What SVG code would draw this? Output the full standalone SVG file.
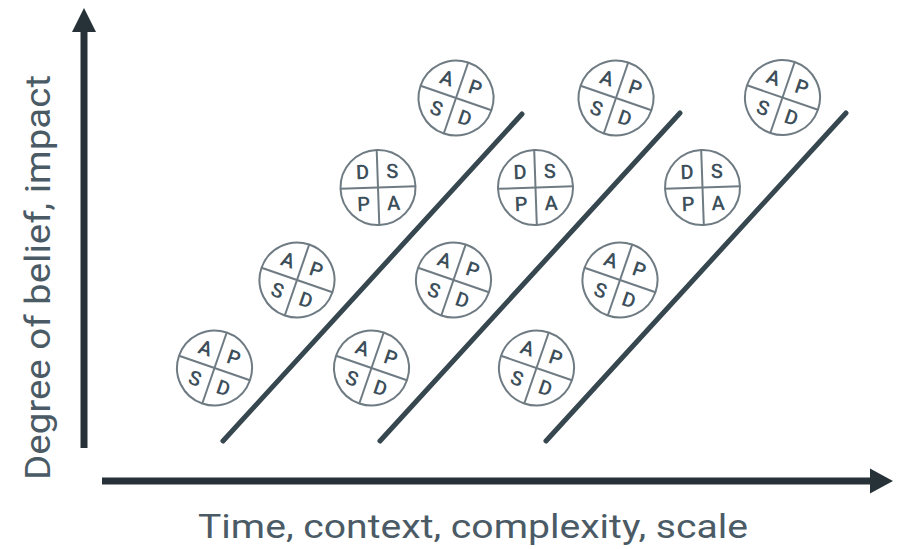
<svg xmlns="http://www.w3.org/2000/svg" width="902" height="549" viewBox="0 0 902 549">
  <style>
    .axis { stroke: #263238; stroke-width: 7; fill: none; }
    .head { fill: #263238; }
    .diag { stroke: #37474f; stroke-width: 5; stroke-linecap: round; fill: none; }
    .ring { fill: #ffffff; stroke: #6f7b83; stroke-width: 2; }
    .div { stroke: #6f7b83; stroke-width: 2; }
    .ltr { font-family: Roboto, "Liberation Sans", sans-serif; font-size: 20px; font-weight: 500; fill: #3d4f5a; text-anchor: middle; }
    .lbl { font-family: Roboto, "Liberation Sans", sans-serif; fill: #4b5b66; }
  </style>
  <defs>
    <!-- plain quartered circle, letters added per node -->
    <g id="face">
      <circle class="ring" r="37.5"/>
      <line class="div" x1="0" y1="-37.5" x2="0" y2="37.5"/>
      <line class="div" x1="-37.5" y1="0" x2="37.5" y2="0"/>
    </g>
  </defs>

  <rect width="902" height="549" fill="#ffffff"/>

  <!-- axes -->
  <g id="axes">
    <line class="axis" x1="84" y1="448" x2="84" y2="30"/>
    <polygon class="head" points="84,8 72,32 96,32"/>
    <line class="axis" x1="102" y1="481" x2="872" y2="481"/>
    <polygon class="head" points="893,481 870,468.5 870,493.5"/>
  </g>

  <!-- diagonal separators -->
  <g id="connectors">
    <line class="diag" x1="223" y1="441" x2="522" y2="114"/>
    <line class="diag" x1="380" y1="441" x2="680" y2="113"/>
    <line class="diag" x1="546" y1="441" x2="846" y2="113"/>
  </g>

  <!-- column 1 -->
  <g id="c1r1" transform="translate(214.5 368) rotate(19)">
    <use href="#face"/>
    <text class="ltr" x="-15" y="-9">A</text><text class="ltr" x="15" y="-9">P</text>
    <text class="ltr" x="-15" y="23">S</text><text class="ltr" x="15" y="23">D</text>
  </g>
  <g id="c1r2" transform="translate(297 280) rotate(19)">
    <use href="#face"/>
    <text class="ltr" x="-15" y="-9">A</text><text class="ltr" x="15" y="-9">P</text>
    <text class="ltr" x="-15" y="23">S</text><text class="ltr" x="15" y="23">D</text>
  </g>
  <g id="c1r3" transform="translate(378 187.5) rotate(-2)">
    <use href="#face"/>
    <text class="ltr" x="-15" y="-9">D</text><text class="ltr" x="15" y="-9">S</text>
    <text class="ltr" x="-15" y="23">P</text><text class="ltr" x="15" y="23">A</text>
  </g>
  <g id="c1r4" transform="translate(456 98) rotate(19)">
    <use href="#face"/>
    <text class="ltr" x="-15" y="-9">A</text><text class="ltr" x="15" y="-9">P</text>
    <text class="ltr" x="-15" y="23">S</text><text class="ltr" x="15" y="23">D</text>
  </g>

  <!-- column 2 -->
  <g id="c2r1" transform="translate(371.5 368) rotate(19)">
    <use href="#face"/>
    <text class="ltr" x="-15" y="-9">A</text><text class="ltr" x="15" y="-9">P</text>
    <text class="ltr" x="-15" y="23">S</text><text class="ltr" x="15" y="23">D</text>
  </g>
  <g id="c2r2" transform="translate(453.5 280) rotate(19)">
    <use href="#face"/>
    <text class="ltr" x="-15" y="-9">A</text><text class="ltr" x="15" y="-9">P</text>
    <text class="ltr" x="-15" y="23">S</text><text class="ltr" x="15" y="23">D</text>
  </g>
  <g id="c2r3" transform="translate(535.5 187.5) rotate(-2)">
    <use href="#face"/>
    <text class="ltr" x="-15" y="-9">D</text><text class="ltr" x="15" y="-9">S</text>
    <text class="ltr" x="-15" y="23">P</text><text class="ltr" x="15" y="23">A</text>
  </g>
  <g id="c2r4" transform="translate(616 98) rotate(19)">
    <use href="#face"/>
    <text class="ltr" x="-15" y="-9">A</text><text class="ltr" x="15" y="-9">P</text>
    <text class="ltr" x="-15" y="23">S</text><text class="ltr" x="15" y="23">D</text>
  </g>

  <!-- column 3 -->
  <g id="c3r1" transform="translate(536.5 368) rotate(19)">
    <use href="#face"/>
    <text class="ltr" x="-15" y="-9">A</text><text class="ltr" x="15" y="-9">P</text>
    <text class="ltr" x="-15" y="23">S</text><text class="ltr" x="15" y="23">D</text>
  </g>
  <g id="c3r2" transform="translate(620 280) rotate(19)">
    <use href="#face"/>
    <text class="ltr" x="-15" y="-9">A</text><text class="ltr" x="15" y="-9">P</text>
    <text class="ltr" x="-15" y="23">S</text><text class="ltr" x="15" y="23">D</text>
  </g>
  <g id="c3r3" transform="translate(702.5 187.5) rotate(-2)">
    <use href="#face"/>
    <text class="ltr" x="-15" y="-9">D</text><text class="ltr" x="15" y="-9">S</text>
    <text class="ltr" x="-15" y="23">P</text><text class="ltr" x="15" y="23">A</text>
  </g>
  <g id="c3r4" transform="translate(782.5 97.5) rotate(19)">
    <use href="#face"/>
    <text class="ltr" x="-15" y="-9">A</text><text class="ltr" x="15" y="-9">P</text>
    <text class="ltr" x="-15" y="23">S</text><text class="ltr" x="15" y="23">D</text>
  </g>

  <!-- axis labels -->
  <text class="lbl" font-size="35" x="50" y="480" transform="rotate(-90 50 480)" textLength="405" lengthAdjust="spacingAndGlyphs">Degree of belief, impact</text>
  <text class="lbl" font-size="34" x="198" y="538" textLength="550" lengthAdjust="spacingAndGlyphs">Time, context, complexity, scale</text>
</svg>
